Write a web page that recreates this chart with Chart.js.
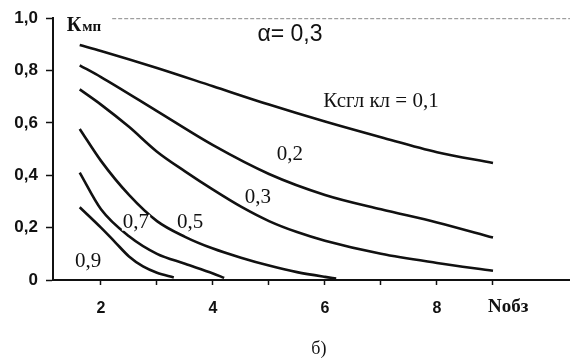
<!DOCTYPE html>
<html>
<head>
<meta charset="utf-8">
<script src="https://cdn.jsdelivr.net/npm/chart.js@4.4.1/dist/chart.umd.min.js"></script>
<style>
  body { margin: 0; background: #fff; }
</style>
</head>
<body>
<canvas id="chartArea" width="570" height="364"></canvas>
<script>
// curves K_mp(N_obz), one per K_sgl_kl value, alpha = 0.3
var curveNames = ['0,1', '0,2', '0,3', '0,5', '0,7', '0,9'];

var n01 = [1.62, 2, 3, 4, 5, 6, 7, 8, 9];
var k01 = [0.898, 0.875, 0.81, 0.74, 0.67, 0.605, 0.545, 0.488, 0.447];

var n02 = [1.62, 2, 3, 4, 5, 6, 7, 8, 9];
var k02 = [0.82, 0.775, 0.645, 0.515, 0.405, 0.325, 0.27, 0.22, 0.162];

var n03 = [1.62, 2, 2.5, 3, 3.5, 4, 4.5, 5, 5.5, 6, 7, 8, 9];
var k03 = [0.728, 0.67, 0.585, 0.49, 0.415, 0.345, 0.28, 0.225, 0.183, 0.15, 0.10, 0.065, 0.035];

var n05 = [1.62, 2, 2.5, 3, 3.5, 4, 4.5, 5, 5.5, 6, 6.2];
var k05 = [0.577, 0.455, 0.325, 0.225, 0.165, 0.12, 0.085, 0.055, 0.03, 0.012, 0.006];

var n07 = [1.62, 2, 2.5, 3, 3.5, 4, 4.2];
var k07 = [0.41, 0.27, 0.167, 0.10, 0.062, 0.025, 0.008];

var n09 = [1.62, 2, 2.25, 2.5, 2.75, 3, 3.3];
var k09 = [0.278, 0.20, 0.145, 0.09, 0.052, 0.028, 0.01];

var xTickLabels = [2, 4, 6, 8];
var yTickValues = [0, 0.2, 0.4, 0.6, 0.8, 1.0];

var curveX = [n01, n02, n03, n05, n07, n09];
var curveY = [k01, k02, k03, k05, k07, k09];

// text placed on the plot, in data units
var curveLabels = [
    { text: '0,2', x: 5.375, y: 0.479 },
    { text: '0,3', x: 4.80, y: 0.317 },
    { text: '0,5', x: 3.59, y: 0.219 },
    { text: '0,7', x: 2.625, y: 0.219 },
    { text: '0,9', x: 1.77, y: 0.072 }
];

var ink = '#111';

function toPoints(xs, ys) {
    var pts = [];
    for (var i = 0; i < xs.length; i++) {
        pts.push({ x: xs[i], y: ys[i] });
    }
    return pts;
}

var datasets = [];
for (var i = 0; i < curveNames.length; i++) {
    datasets.push({
        label: curveNames[i],
        data: toPoints(curveX[i], curveY[i]),
        borderColor: ink,
        borderWidth: 2.6,
        pointRadius: 0,
        fill: false,
        cubicInterpolationMode: 'monotone'
    });
}

//texts drawn over the plot
var textPlugin = {
    id: 'texts',
    afterDatasetsDraw: function (chart) {
        var ctx = chart.ctx;
        var xs = chart.scales.x;
        var ys = chart.scales.y;
        ctx.save();

        // faint dashed frame line at the top
        ctx.strokeStyle = '#888';
        ctx.lineWidth = 1;
        ctx.setLineDash([4, 2]);
        ctx.beginPath();
        ctx.moveTo(xs.getPixelForValue(2.2), ys.getPixelForValue(1.0) + 0.5);
        ctx.lineTo(chart.chartArea.right, ys.getPixelForValue(1.0) + 0.5);
        ctx.stroke();
        ctx.setLineDash([]);

        ctx.fillStyle = ink;
        ctx.textBaseline = 'middle';
        ctx.textAlign = 'center';

        // curve labels, with a white patch behind them like the original
        ctx.font = '21px "Liberation Serif", serif';
        curveLabels.forEach(function (lb) {
            var px = xs.getPixelForValue(lb.x);
            var py = ys.getPixelForValue(lb.y);
            var w = ctx.measureText(lb.text).width;
            ctx.fillStyle = '#fff';
            ctx.fillRect(px - w / 2 - 1, py - 8, w + 2, 16);
            ctx.fillStyle = ink;
            ctx.fillText(lb.text, px, py);
        });

        ctx.textAlign = 'left';
        ctx.fillText('Ксгл кл = 0,1', xs.getPixelForValue(5.97), ys.getPixelForValue(0.68));

        ctx.font = '23px "Liberation Sans", sans-serif';
        ctx.textAlign = 'center';
        ctx.fillText('\u03B1= 0,3', xs.getPixelForValue(5.375), ys.getPixelForValue(0.936));

        // axis titles
        ctx.textAlign = 'left';
        ctx.textBaseline = 'alphabetic';
        var kx = xs.getPixelForValue(1.39);
        var ky = ys.getPixelForValue(0.951);
        ctx.font = 'bold 20px "Liberation Serif", serif';
        ctx.fillText('К', kx, ky);
        var kw = ctx.measureText('К').width;
        ctx.font = 'bold 15px "Liberation Serif", serif';
        ctx.fillText('мп', kx + kw + 1, ky);

        ctx.textAlign = 'center';
        ctx.textBaseline = 'middle';
        ctx.font = 'bold 19px "Liberation Serif", serif';
        ctx.fillText('Nобз', xs.getPixelForValue(9.27), ys.getPixelForValue(-0.102));

        ctx.font = '18px "Liberation Serif", serif';
        ctx.fillText('б)', xs.getPixelForValue(5.89), ys.getPixelForValue(-0.264));

        ctx.restore();
    }
};

var chart = new Chart(document.getElementById('chartArea'), {
    type: 'line',
    data: { datasets: datasets },
    plugins: [textPlugin],
    options: {
        responsive: false,
        animation: false,
        devicePixelRatio: 1,
        layout: { padding: { top: 15, right: 0, left: 0, bottom: 0 } },
        plugins: {
            legend: { display: false },
            title: { display: false },
            tooltip: { enabled: false }
        },
        scales: {
            x: {
                type: 'linear',
                min: 1.143,
                max: 10.375,
                afterFit: function (scale) { scale.height = 84; },
                border: { display: true, color: ink, width: 2 },
                grid: {
                    drawOnChartArea: false,
                    drawTicks: true,
                    tickLength: 5,
                    tickWidth: 1.5,
                    tickColor: function (c) {
                        return c.tick && c.tick.value > 9.5 ? 'rgba(0,0,0,0)' : ink;
                    }
                },
                ticks: {
                    stepSize: 1,
                    includeBounds: false,
                    autoSkip: false,
                    maxRotation: 0,
                    padding: 14,
                    color: ink,
                    font: { family: '"Liberation Sans", sans-serif', size: 16, weight: 'bold' },
                    callback: function (v) {
                        return xTickLabels.indexOf(v) != -1 ? String(v) : '';
                    }
                }
            },
            y: {
                type: 'linear',
                min: 0,
                max: 1.0,
                afterFit: function (scale) { scale.width = 53; },
                afterBuildTicks: function (scale) {
                    scale.ticks = yTickValues.map(function (v) { return { value: v }; });
                },
                border: { display: true, color: ink, width: 2 },
                grid: {
                    drawOnChartArea: false,
                    drawTicks: true,
                    tickLength: 7,
                    tickWidth: 1.5,
                    tickColor: ink
                },
                ticks: {
                    padding: 8,
                    color: ink,
                    font: { family: '"Liberation Sans", sans-serif', size: 17, weight: 'bold' },
                    callback: function (v) {
                        return v === 0 ? '0' : v.toFixed(1).replace('.', ',');
                    }
                }
            }
        }
    }
});
</script>
</body>
</html>
